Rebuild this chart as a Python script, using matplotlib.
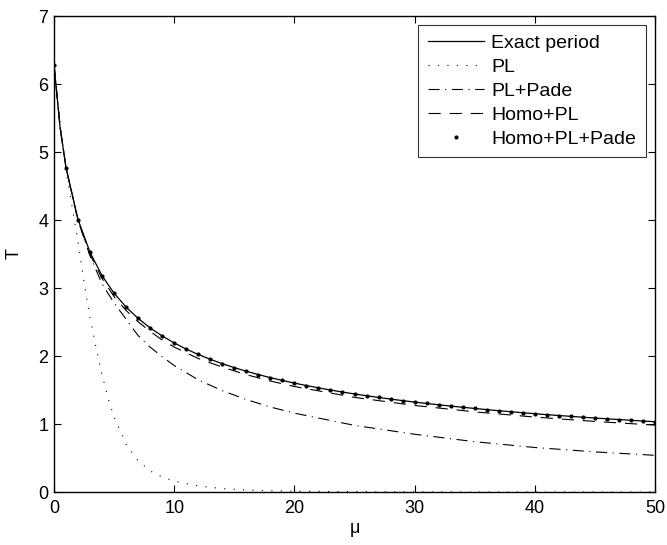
import matplotlib
matplotlib.use("Agg")
import matplotlib.pyplot as plt

plt.rcParams['font.family'] = ['Liberation Sans', 'DejaVu Sans']

# Exact period, including a half-step near the origin
mu_exact = [0, 0.5, 1, 2, 3, 4, 5, 6, 7, 8, 9, 10, 11, 12, 13, 14, 15, 16, 17, 18, 19, 20,
            21, 22, 23, 24, 25, 26, 27, 28, 29, 30, 31, 32, 33, 34, 35, 36, 37, 38, 39, 40,
            41, 42, 43, 44, 45, 46, 47, 48, 49, 50]
T_exact = [6.283, 5.369, 4.768, 4.006, 3.523, 3.180, 2.923, 2.719, 2.553, 2.413, 2.295, 2.192,
           2.102, 2.023, 1.952, 1.887, 1.829, 1.776, 1.727, 1.682, 1.641, 1.602,
           1.566, 1.532, 1.500, 1.470, 1.442, 1.416, 1.391, 1.367, 1.344, 1.323,
           1.302, 1.283, 1.264, 1.246, 1.229, 1.212, 1.196, 1.181, 1.166, 1.152,
           1.138, 1.125, 1.113, 1.100, 1.088, 1.077, 1.066, 1.055, 1.044, 1.034]

# PL (dotted)
mu_pl = [0, 0.5, 1, 1.5, 2, 2.5, 3, 3.5, 4, 4.5, 5, 6, 7, 8, 9, 10, 12, 14, 16, 18, 20, 25, 30, 35, 40, 50]
T_pl = [6.283, 5.45, 4.72, 4.2, 3.68, 3.08, 2.56, 2.12, 1.72, 1.38, 1.10, 0.70, 0.46, 0.31, 0.22,
        0.16, 0.09, 0.05, 0.03, 0.018, 0.012, 0.005, 0.002, 0.0, 0.0, 0.0]

# PL+Pade (dash-dot)
mu_plp = [0, 0.5, 1, 2, 3, 4, 5, 6, 7, 8, 9, 10, 12, 14, 16, 18, 20, 25, 30, 35, 40, 45, 50]
T_plp = [6.283, 5.369, 4.76, 3.99, 3.47, 3.06, 2.78, 2.54, 2.30, 2.13, 1.99, 1.86, 1.65, 1.49,
         1.36, 1.25, 1.16, 0.98, 0.85, 0.74, 0.655, 0.59, 0.54]

# Homo+PL (dashed)
mu_hpl = [0, 0.5, 1, 2, 3, 4, 5, 6, 7, 8, 9, 10, 12, 14, 16, 18, 20, 25, 30, 35, 40, 45, 50]
T_hpl = [6.283, 5.369, 4.768, 3.996, 3.493, 3.14, 2.873, 2.669, 2.503, 2.363, 2.235, 2.132, 1.963,
         1.837, 1.726, 1.632, 1.552, 1.392, 1.273, 1.179, 1.102, 1.038, 0.984]

# Homo+PL+Pade (dots at integer mu)
mu_hpp = [m for m in mu_exact if float(m).is_integer()]
T_hpp = [t for m, t in zip(mu_exact, T_exact) if float(m).is_integer()]

fig = plt.figure(figsize=(6.67, 5.45), dpi=100)
ax = fig.add_axes([0.081, 0.0972, 0.901, 0.8734])

ax.plot(mu_exact, T_exact, color='black', lw=0.9, label='Exact period')
ax.plot(mu_pl, T_pl, color='black', lw=0.8, linestyle=(0, (1, 7.5)), label='PL')
ax.plot(mu_plp, T_plp, color='black', lw=0.8, linestyle=(0, (10, 5, 1, 5)), label='PL+Pade')
ax.plot(mu_hpl, T_hpl, color='black', lw=0.8, linestyle=(0, (11, 8)), label='Homo+PL')
ax.plot(mu_hpp, T_hpp, color='black', linestyle='none', marker='o', markersize=3,
        markeredgewidth=0, label='Homo+PL+Pade')

ax.set_xlim(0, 50)
ax.set_ylim(0, 7)
ax.set_xticks([0, 10, 20, 30, 40, 50])
ax.set_yticks([0, 1, 2, 3, 4, 5, 6, 7])
ax.tick_params(direction='in', top=True, right=True, length=5, width=0.8, labelsize=13)
ax.tick_params(axis='x', pad=6)
ax.tick_params(axis='y', pad=4)
for s in ax.spines.values():
    s.set_linewidth(1.0)
ax.set_xlabel('μ', fontsize=13, labelpad=2)
ax.set_ylabel('T', fontsize=13, labelpad=11)

leg = ax.legend(loc='upper right', fontsize=14, frameon=True, fancybox=False, edgecolor='black',
                borderaxespad=0.46, handlelength=2.9, handletextpad=0.36, labelspacing=0.32,
                borderpad=0.5)
leg.get_frame().set_linewidth(0.8)

fig.savefig('out.png', dpi=100)
